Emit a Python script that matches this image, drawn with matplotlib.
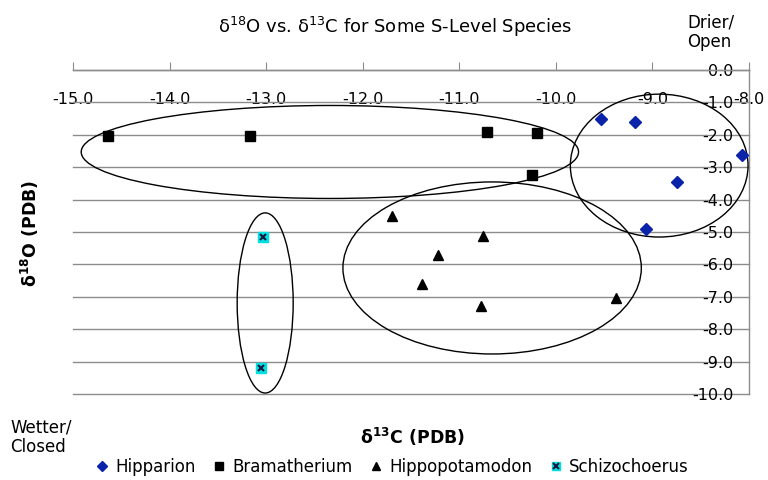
import matplotlib.pyplot as plt
from matplotlib.patches import Ellipse
from matplotlib.legend_handler import HandlerTuple

# Valores (delta13C, delta18O)
hipparion_c = [-9.53, -9.18, -8.07, -8.75, -9.07]
hipparion_o = [-1.51, -1.60, -2.62, -3.46, -4.91]

bramatherium_c = [-14.64, -13.17, -10.71, -10.20, -10.25]
bramatherium_o = [-2.04, -2.04, -1.91, -1.94, -3.24]

hippopotamodon_c = [-11.70, -10.75, -11.22, -11.39, -10.78, -9.38]
hippopotamodon_o = [-4.51, -5.12, -5.71, -6.60, -7.28, -7.04]

schizochoerus_c = [-13.03, -13.05]
schizochoerus_o = [-5.15, -9.20]

# Elipses desenhadas à mão: (centro x, centro y, largura, altura)
elipses = [(-12.34, -2.53, 5.15, 2.87),
           (-8.93, -2.95, 1.84, 4.41),
           (-10.66, -6.11, 3.09, 5.31),
           (-13.01, -7.19, 0.58, 5.56)]

x_ticks = [-15, -14, -13, -12, -11, -10, -9, -8]
y_ticks = [0, -1, -2, -3, -4, -5, -6, -7, -8, -9, -10]

cinza = '#8c8c8c'

fig = plt.figure(figsize=(7.68, 4.8), dpi=100)
ax = fig.add_axes([73 / 768, 1 - 394 / 480, 676 / 768, 324 / 480])

ax.set_xlim(-15, -8)
ax.set_ylim(-10, 0)

# eixos no estilo Excel: eixo x em y=0 (topo), eixo y em x=-8 (direita)
ax.spines['bottom'].set_position(('data', 0))
ax.spines['left'].set_position(('data', -8))
ax.spines['top'].set_visible(False)
ax.spines['right'].set_visible(False)
for s in ['bottom', 'left']:
    ax.spines[s].set_color(cinza)
    ax.spines[s].set_linewidth(1)

ax.set_xticks(x_ticks)
ax.set_yticks(y_ticks)
ax.set_xticklabels(['%.1f' % v for v in x_ticks])
ax.set_yticklabels(['%.1f' % v for v in y_ticks])
ax.tick_params(axis='x', direction='in', length=6, color=cinza, pad=16, labelsize=11.5)
ax.tick_params(axis='y', length=0, pad=11, labelsize=11.5)

ax.yaxis.grid(True, color=cinza, linewidth=1)
for g in ax.get_ygridlines():
    g.set_clip_on(False)
ax.set_axisbelow(True)

for cx, cy, w, h in elipses:
    ax.add_patch(Ellipse((cx, cy), w, h, fill=False, edgecolor='black',
                         linewidth=1, clip_on=False, zorder=3))

h1, = ax.plot(hipparion_c, hipparion_o, 'D', color='#0a23a8', markersize=6,
              linestyle='none', zorder=4)
h2, = ax.plot(bramatherium_c, bramatherium_o, 's', color='black', markersize=7,
              linestyle='none', zorder=4)
h3, = ax.plot(hippopotamodon_c, hippopotamodon_o, '^', color='black', markersize=7,
              linestyle='none', zorder=4)
h4a, = ax.plot(schizochoerus_c, schizochoerus_o, 's', color='#00e0e0', markersize=7,
               linestyle='none', zorder=4)
h4b, = ax.plot(schizochoerus_c, schizochoerus_o, 'x', color='#1a1a40', markersize=5,
               markeredgewidth=1.5, linestyle='none', zorder=5)

fig.text(395 / 768, 1 - 27 / 480, 'δ$^{18}$O vs. δ$^{13}$C for Some S-Level Species',
         ha='center', va='center', fontsize=13)
fig.text(30 / 768, 1 - 233 / 480, r'δ$^{\mathbf{18}}$O (PDB)', rotation=90,
         ha='center', va='center', fontsize=12.5, fontweight='bold')
fig.text(413 / 768, 1 - 437 / 480, r'δ$^{\mathbf{13}}$C (PDB)',
         ha='center', va='center', fontsize=12.5, fontweight='bold')
fig.text(10 / 768, 1 - 437 / 480, 'Wetter/\nClosed', ha='left', va='center',
         fontsize=12, linespacing=1.1)
fig.text(687 / 768, 1 - 32 / 480, 'Drier/\nOpen', ha='left', va='center',
         fontsize=12, linespacing=1.1)

fig.legend([h1, h2, h3, (h4a, h4b)],
           ['Hipparion', 'Bramatherium', 'Hippopotamodon', 'Schizochoerus'],
           handler_map={tuple: HandlerTuple(ndivide=1)},
           loc='center', bbox_to_anchor=(392 / 768, 1 - 467 / 480), ncol=4,
           frameon=False, fontsize=12, handlelength=0.8, handletextpad=0.4,
           columnspacing=1.0, borderpad=0, markerscale=0.85)

fig.savefig('out.png', dpi=100)
